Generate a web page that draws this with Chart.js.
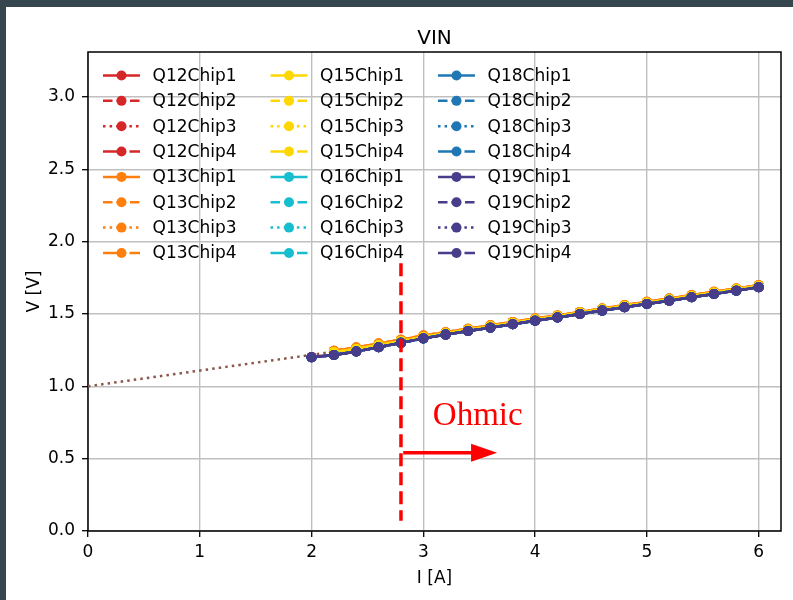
<!DOCTYPE html>
<html><head><meta charset="utf-8">
<script src="https://cdn.jsdelivr.net/npm/chart.js@4.4.1/dist/chart.umd.min.js"></script>
<style>
html,body{margin:0;padding:0;background:#36464f;width:793px;height:600px;overflow:hidden;}
#wrap{position:absolute;left:6px;top:7px;width:787px;height:593px;background:#fff;}
canvas{display:block;}
</style></head><body>
<div id="wrap"><canvas id="c" width="787" height="593"></canvas></div>
<script>
// ---------------- data ----------------
const currentsFull = [2.0,2.2,2.4,2.6,2.8,3.0,3.2,3.4,3.6,3.8,4.0,4.2,4.4,4.6,4.8,5.0,5.2,5.4,5.6,5.8,6.0];
const currentsLate = [2.2,2.4,2.6,2.8,3.0,3.2,3.4,3.6,3.8,4.0,4.2,4.4,4.6,4.8,5.0,5.2,5.4,5.6,5.8,6.0];

const vQ12 = [1.202,1.218,1.241,1.271,1.301,1.332,1.358,1.383,1.406,1.430,1.454,1.476,1.500,1.524,1.547,1.570,1.592,1.616,1.639,1.662,1.685];
const vQ13 = [1.246,1.268,1.295,1.322,1.351,1.374,1.398,1.421,1.445,1.469,1.490,1.514,1.538,1.561,1.584,1.606,1.630,1.653,1.676,1.699];
const vQ15 = [1.236,1.258,1.285,1.312,1.341,1.366,1.391,1.414,1.438,1.462,1.484,1.508,1.532,1.555,1.578,1.600,1.624,1.647,1.670,1.693];
const vQ16 = [1.201,1.217,1.240,1.270,1.300,1.331,1.357,1.382,1.405,1.429,1.453,1.475,1.499,1.523,1.546,1.569,1.591,1.615,1.638,1.661,1.684];
const vQ18 = [1.201,1.216,1.240,1.270,1.300,1.331,1.357,1.382,1.405,1.429,1.453,1.475,1.499,1.523,1.546,1.569,1.591,1.615,1.638,1.661,1.684];
const vQ19 = [1.200,1.216,1.240,1.270,1.300,1.331,1.357,1.382,1.405,1.429,1.453,1.475,1.499,1.523,1.546,1.569,1.591,1.615,1.638,1.661,1.684];

const fitI = [0.0, 2.2];
const fitV = [1.000, 1.239];

const quads = ['Q12','Q13','Q15','Q16','Q18','Q19'];
const chips = ['Chip1','Chip2','Chip3','Chip4'];
const quadCurrents = {Q12: currentsFull, Q13: currentsLate, Q15: currentsLate, Q16: currentsFull, Q18: currentsFull, Q19: currentsFull};
const quadVoltages = {Q12: vQ12, Q13: vQ13, Q15: vQ15, Q16: vQ16, Q18: vQ18, Q19: vQ19};

const xTickValues = [0,1,2,3,4,5,6];
const yTickValues = [0.0,0.5,1.0,1.5,2.0,2.5,3.0];

const chartTitle = 'VIN';
const ohmicI = 2.8;
const ohmicSpanV = [0.07, 1.85];
const arrowFrom = [2.82, 0.54];
const arrowTo = [3.66, 0.54];
const ohmicLabelAt = [3.085, 0.733];
const ohmicLabel = 'Ohmic';

// ---------------- styles ----------------
const quadColors = {Q12:'#d62728', Q13:'#ff7f0e', Q15:'#ffd700', Q16:'#17becf', Q18:'#1f77b4', Q19:'#483d8b'};
const chipDash = {Chip1: [], Chip2: [9.5,4], Chip3: [2.5,4.1], Chip4: [16,4,2.5,4]};
const LW = 2.5;

const datasets = [];
datasets.push({
  label: '', data: fitI.map((x,i)=>({x, y: fitV[i]})),
  borderColor: '#8c564b', borderWidth: LW, borderDash: [2.5,4.1],
  pointRadius: 0, order: 1000, fill: false, tension: 0
});
let n = 0;
quads.forEach(q => {
  chips.forEach(c => {
    const I = quadCurrents[q], V = quadVoltages[q];
    datasets.push({
      label: q + c,
      data: I.map((x,i)=>({x, y: V[i]})),
      borderColor: quadColors[q], backgroundColor: quadColors[q],
      borderWidth: LW, borderDash: chipDash[c], borderCapStyle: 'butt',
      pointRadius: 5, pointHoverRadius: 5, pointBorderWidth: 0,
      pointBackgroundColor: quadColors[q], pointBorderColor: quadColors[q],
      order: 500 - n, fill: false, tension: 0
    });
    n++;
  });
});

const framePlugin = {
  id: 'frame',
  beforeDatasetsDraw(chart){
    const a = chart.chartArea, ctx = chart.ctx;
    ctx.save();
    ctx.strokeStyle = '#000'; ctx.lineWidth = 1.5;
    ctx.strokeRect(a.left, a.top, a.right - a.left, a.bottom - a.top);
    // title centred over the plot area
    ctx.fillStyle = '#000';
    ctx.font = '20px "DejaVu Sans"';
    ctx.textAlign = 'center'; ctx.textBaseline = 'alphabetic';
    ctx.fillText(chartTitle, (a.left + a.right) / 2, a.top - 8.5);
    ctx.restore();
  }
};

const annotPlugin = {
  id: 'annot',
  afterDatasetsDraw(chart){
    const ctx = chart.ctx, xs = chart.scales.x, ys = chart.scales.y;
    ctx.save();
    ctx.strokeStyle = '#ff0000'; ctx.fillStyle = '#ff0000';
    ctx.lineWidth = 3.5; ctx.setLineDash([13,6]); ctx.lineCap = 'butt';
    const vx = xs.getPixelForValue(ohmicI);
    ctx.beginPath();
    ctx.moveTo(vx, ys.getPixelForValue(ohmicSpanV[1]));
    ctx.lineTo(vx, ys.getPixelForValue(ohmicSpanV[0]));
    ctx.stroke();
    ctx.setLineDash([]);
    const x0 = xs.getPixelForValue(arrowFrom[0]), y0 = ys.getPixelForValue(arrowFrom[1]);
    const x1 = xs.getPixelForValue(arrowTo[0]), y1 = ys.getPixelForValue(arrowTo[1]);
    const headL = 26, headW = 18;
    ctx.lineWidth = 3.5;
    ctx.beginPath(); ctx.moveTo(x0, y0); ctx.lineTo(x1 - headL + 1, y1); ctx.stroke();
    ctx.beginPath();
    ctx.moveTo(x1, y1); ctx.lineTo(x1 - headL, y1 - headW/2); ctx.lineTo(x1 - headL, y1 + headW/2); ctx.closePath();
    ctx.fill();
    ctx.font = '33px "Liberation Serif"';
    ctx.textBaseline = 'alphabetic'; ctx.textAlign = 'left';
    ctx.fillText(ohmicLabel, xs.getPixelForValue(ohmicLabelAt[0]), ys.getPixelForValue(ohmicLabelAt[1]));
    ctx.restore();
  }
};

const legendPlugin = {
  id: 'mplLegend',
  afterDraw(chart){
    const ctx = chart.ctx, a = chart.chartArea;
    ctx.save();
    ctx.font = '17px "DejaVu Sans"';
    ctx.textBaseline = 'middle'; ctx.textAlign = 'left';
    let k = 0;
    chart.data.datasets.forEach(ds => {
      if (!ds.label) return;
      const col = Math.floor(k/8), row = k % 8; k++;
      const hx = a.left + 15 + col*167.5, y = a.top + 23.5 + row*25.35;
      ctx.strokeStyle = ds.borderColor; ctx.lineWidth = ds.borderWidth;
      ctx.lineCap = 'butt';
      ctx.setLineDash(ds.borderDash || []);
      ctx.beginPath(); ctx.moveTo(hx, y); ctx.lineTo(hx + 37, y); ctx.stroke();
      ctx.setLineDash([]);
      ctx.fillStyle = ds.borderColor;
      ctx.beginPath(); ctx.arc(hx + 18.5, y, 5, 0, Math.PI*2); ctx.fill();
      ctx.fillStyle = '#000';
      ctx.fillText(ds.label, hx + 49.5, y + 1);
    });
    ctx.restore();
  }
};

Chart.defaults.font.family = '"DejaVu Sans"';
Chart.defaults.color = '#000';

new Chart(document.getElementById('c'), {
  type: 'line',
  data: { datasets },
  options: {
    responsive: false, animation: false, devicePixelRatio: 1,
    layout: { padding: { left: 0, right: 12, top: 45, bottom: 0 } },
    plugins: {
      legend: { display: false }, tooltip: { enabled: false }, title: { display: false }
    },
    scales: {
      x: {
        type: 'linear', min: 0, max: 6.2,
        afterFit: s => { s.height = 69; },
        afterBuildTicks: s => { s.ticks = xTickValues.map(v => ({value: v})); },
        ticks: { includeBounds: false, font: { size: 17 }, color: '#000', padding: 5, maxRotation: 0, callback: v => String(v) },
        grid: { color: '#c0c0c0', lineWidth: 1.4, drawTicks: true, tickLength: 6, tickColor: '#000', tickWidth: 1.3 },
        border: { display: false },
        title: { display: true, text: 'I [A]', color: '#000', font: { size: 17 }, padding: { top: 0, bottom: 11 } }
      },
      y: {
        type: 'linear', min: 0, max: 3.31,
        afterFit: s => { s.width = 82; },
        afterBuildTicks: s => { s.ticks = yTickValues.map(v => ({value: v})); },
        ticks: { includeBounds: false, font: { size: 17 }, color: '#000', padding: 7, callback: v => Number(v).toFixed(1) },
        grid: { color: '#c0c0c0', lineWidth: 1.4, drawTicks: true, tickLength: 6, tickColor: '#000', tickWidth: 1.3 },
        border: { display: false },
        title: { display: true, text: 'V [V]', color: '#000', font: { size: 17 }, padding: { top: 18.5, bottom: 0 } }
      }
    }
  },
  plugins: [framePlugin, annotPlugin, legendPlugin]
});
</script>
</body></html>
